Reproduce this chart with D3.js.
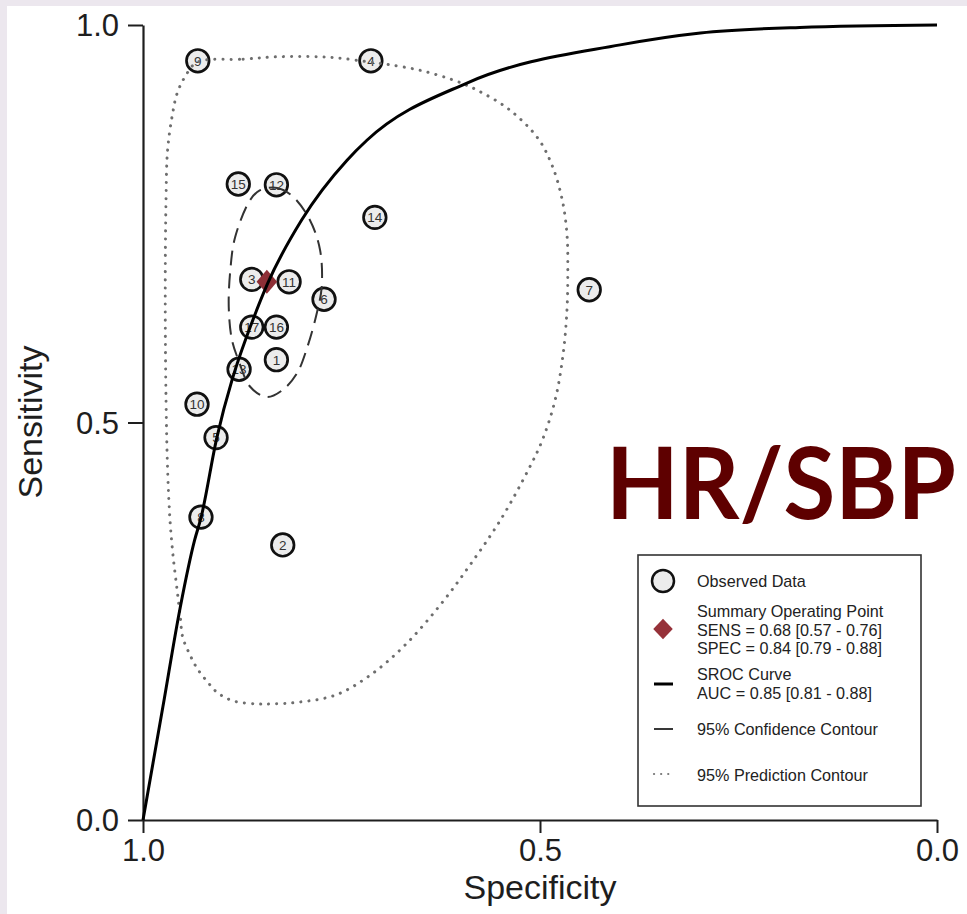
<!DOCTYPE html>
<html>
<head>
<meta charset="utf-8">
<script src="https://cdn.jsdelivr.net/npm/d3@7"></script>
<style>
  html, body { margin: 0; padding: 0; background: #ece7ee; }
  svg { display: block; }
</style>
</head>
<body>
<svg id="chart" width="967" height="914"></svg>
<script>
// ---- Observed study data (specificity, sensitivity) ----
const studyIds = [1, 2, 3, 4, 5, 6, 7, 8, 9, 10, 11, 12, 13, 14, 15, 16, 17];
const studySpec = [0.832, 0.824, 0.863, 0.713, 0.908, 0.772, 0.438, 0.927, 0.931, 0.932, 0.816, 0.832, 0.879, 0.708, 0.880, 0.832, 0.863];
const studySens = [0.579, 0.346, 0.680, 0.955, 0.481, 0.655, 0.667, 0.381, 0.955, 0.523, 0.677, 0.799, 0.567, 0.758, 0.800, 0.620, 0.620];

// ---- Summary operating point ----
const summarySpec = 0.844;
const summarySens = 0.677;

// ---- SROC curve ----
const srocSpec = [1.000, 0.975, 0.953, 0.935, 0.927, 0.907, 0.888, 0.883, 0.865, 0.843, 0.800, 0.743, 0.718, 0.592, 0.399, 0.298, 0.173, 0.000];
const srocSens = [0.000, 0.142, 0.268, 0.352, 0.380, 0.481, 0.553, 0.569, 0.620, 0.675, 0.755, 0.830, 0.855, 0.927, 0.975, 0.990, 0.997, 1.000];

// ---- 95% confidence contour ----
const confSpec = [0.853, 0.831, 0.811, 0.790, 0.777, 0.775, 0.781, 0.793, 0.806, 0.824, 0.844, 0.865, 0.880, 0.888, 0.892, 0.890, 0.884, 0.865];
const confSens = [0.792, 0.795, 0.784, 0.755, 0.717, 0.670, 0.638, 0.595, 0.562, 0.541, 0.532, 0.545, 0.579, 0.604, 0.645, 0.692, 0.733, 0.780];

// ---- 95% prediction contour ----
const predSpec = [0.932, 0.874, 0.831, 0.777, 0.749, 0.712, 0.689, 0.651, 0.610, 0.579, 0.538, 0.503, 0.485, 0.472, 0.466, 0.465, 0.466, 0.471, 0.481, 0.497, 0.515, 0.550, 0.588, 0.626, 0.670, 0.714, 0.758, 0.806, 0.836, 0.856, 0.887, 0.906, 0.919, 0.932, 0.941, 0.950, 0.953, 0.957, 0.962, 0.966, 0.969, 0.971, 0.972, 0.971, 0.969, 0.963, 0.957, 0.947];
const predSens = [0.953, 0.957, 0.960, 0.960, 0.958, 0.953, 0.950, 0.943, 0.931, 0.918, 0.893, 0.858, 0.824, 0.780, 0.736, 0.692, 0.642, 0.585, 0.528, 0.478, 0.440, 0.377, 0.321, 0.270, 0.220, 0.182, 0.157, 0.148, 0.146, 0.146, 0.150, 0.160, 0.174, 0.191, 0.208, 0.230, 0.255, 0.289, 0.331, 0.377, 0.440, 0.528, 0.654, 0.780, 0.843, 0.887, 0.914, 0.935];

// ---- Axis ticks and texts ----
const tickValues = [0, 0.5, 1];
const xTitle = "Specificity";
const yTitle = "Sensitivity";
const legendLabels = [
  ["Observed Data"],
  ["Summary Operating Point", "SENS = 0.68 [0.57 - 0.76]", "SPEC = 0.84 [0.79 - 0.88]"],
  ["SROC Curve", "AUC = 0.85 [0.81 - 0.88]"],
  ["95% Confidence Contour"],
  ["95% Prediction Contour"]
];
const bigLabel = "HR/SBP";

// ---------------------------------------------------------------
const svg = d3.select("#chart");
svg.append("rect").attr("x", 7).attr("y", 6).attr("width", 960).attr("height", 908).attr("fill", "#ffffff");

const x = d3.scaleLinear().domain([1, 0]).range([143, 937]);
const y = d3.scaleLinear().domain([0, 1]).range([820, 25]);

const font = "'Liberation Sans', Arial, Helvetica, sans-serif";
const ink = "#1e1e1e";

// Axes
const xAxis = d3.axisBottom(x).tickValues(tickValues).tickFormat(d3.format(".1f")).tickSize(13).tickSizeOuter(0).tickPadding(6);
const yAxis = d3.axisLeft(y).tickValues(tickValues).tickFormat(d3.format(".1f")).tickSize(15).tickSizeOuter(0).tickPadding(9);

const gx = svg.append("g").attr("transform", "translate(0,820)").call(xAxis);
const gy = svg.append("g").attr("transform", "translate(143,0)").call(yAxis);
[gx, gy].forEach(g => {
  g.select(".domain").attr("stroke", ink).attr("stroke-width", 2.2);
  g.selectAll(".tick line").attr("stroke", ink).attr("stroke-width", 2);
  g.selectAll(".tick text").attr("fill", ink).style("font-family", font).style("font-size", "31px");
});
gy.selectAll(".tick text").attr("dy", "0.35em");

svg.append("text").attr("x", 540).attr("y", 899).attr("text-anchor", "middle")
  .style("font-family", font).style("font-size", "34px").attr("fill", ink).text(xTitle);
svg.append("text").attr("transform", "translate(42,422) rotate(-90)").attr("text-anchor", "middle")
  .style("font-family", font).style("font-size", "34px").attr("fill", ink).text(yTitle);

// Observed circles
const studies = studyIds.map((id, i) => ({ id, spec: studySpec[i], sens: studySens[i] }));
const gs = svg.append("g");
const node = gs.selectAll("g").data(studies).join("g")
  .attr("transform", d => `translate(${x(d.spec)},${y(d.sens)})`);
node.append("circle").attr("r", 11.3).attr("fill", "#ececec").attr("stroke", "#111").attr("stroke-width", 2.7);
node.append("text").attr("text-anchor", "middle").attr("dy", "0.36em")
  .style("font-family", font).style("font-size", "13.5px").attr("fill", "#333").text(d => d.id);

// Summary diamond
const diamond = d3.symbol().type(d3.symbolDiamond2).size(300);
svg.append("path").attr("d", diamond())
  .attr("transform", `translate(${x(summarySpec)},${y(summarySens)}) scale(0.95,1.1)`)
  .attr("fill", "#8e2f36");

// Prediction contour (dotted)
const predPts = predSpec.map((s, i) => [x(s), y(predSens[i])]);
svg.append("path").attr("d", d3.line().curve(d3.curveCatmullRomClosed)(predPts))
  .attr("fill", "none").attr("stroke", "#6e6e6e").attr("stroke-width", 3)
  .attr("stroke-linecap", "round").attr("stroke-dasharray", "0.1 8");

// Confidence contour (dashed)
const confPts = confSpec.map((s, i) => [x(s), y(confSens[i])]);
svg.append("path").attr("d", d3.line().curve(d3.curveCatmullRomClosed)(confPts))
  .attr("fill", "none").attr("stroke", "#333").attr("stroke-width", 2)
  .attr("stroke-dasharray", "15 8");

// SROC curve
const srocPts = srocSpec.map((s, i) => [x(s), y(srocSens[i])]);
svg.append("path").attr("d", d3.line().curve(d3.curveMonotoneX)(srocPts))
  .attr("fill", "none").attr("stroke", "#000").attr("stroke-width", 3);

// Big label (scaled horizontally to the reference width)
const big = svg.append("text").attr("x", 0).attr("y", 0)
  .style("font-family", "Lato, 'Open Sans', sans-serif").style("font-weight", 700).style("font-size", "100px")
  .attr("fill", "#5e0000").text(bigLabel);
const natural = big.node().getComputedTextLength();
const sx = Math.min(1, 350 / natural);
big.attr("transform", `translate(606,519) scale(${sx},1)`);

// Legend
const lg = svg.append("g");
lg.append("rect").attr("x", 638).attr("y", 555).attr("width", 283).attr("height", 251)
  .attr("fill", "#fff").attr("stroke", "#333").attr("stroke-width", 1.6);
const lgBase = [587, 617, 680, 735, 781];
const lineGap = 18.5;
legendLabels.forEach((lines, i) => {
  lines.forEach((t, j) => {
    lg.append("text").attr("x", 697).attr("y", lgBase[i] + j * lineGap)
      .style("font-family", font).style("font-size", "16.2px").attr("fill", "#222").text(t);
  });
});
lg.append("circle").attr("cx", 663).attr("cy", 581).attr("r", 11)
  .attr("fill", "#ececec").attr("stroke", "#111").attr("stroke-width", 2.5);
lg.append("path").attr("d", diamond()).attr("transform", "translate(663,629) scale(0.9,0.95)").attr("fill", "#963139");
lg.append("line").attr("x1", 654).attr("x2", 673).attr("y1", 684).attr("y2", 684).attr("stroke", "#000").attr("stroke-width", 3);
lg.append("line").attr("x1", 654).attr("x2", 673).attr("y1", 729).attr("y2", 729).attr("stroke", "#222").attr("stroke-width", 1.8);
lg.append("line").attr("x1", 654).attr("x2", 673).attr("y1", 774).attr("y2", 774).attr("stroke", "#777").attr("stroke-width", 2.2)
  .attr("stroke-linecap", "round").attr("stroke-dasharray", "0.1 7");
</script>
</body>
</html>
